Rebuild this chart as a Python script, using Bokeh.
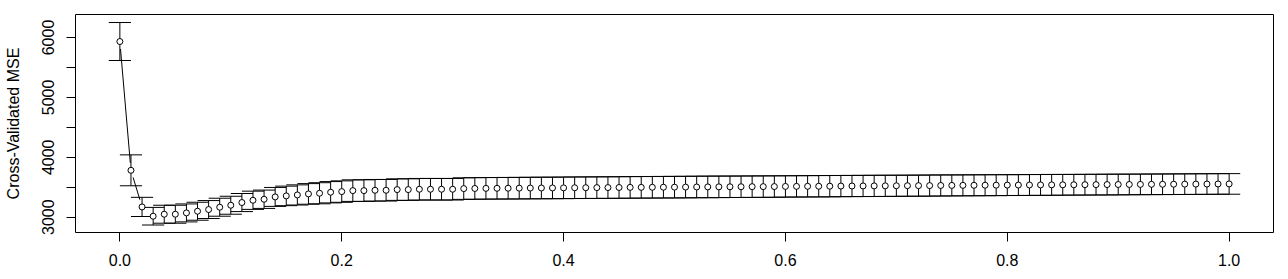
import numpy as np
from bokeh.plotting import figure
from bokeh.models import Range1d, FixedTicker
from bokeh.embed import file_html
from bokeh.resources import INLINE

# ---- data ----
lam = [round(i * 0.01, 2) for i in range(101)]
cv_mse = [5933, 3783, 3172, 3017, 3050, 3050, 3072, 3100, 3128, 3167,
          3200, 3245, 3283, 3300, 3339, 3356, 3372, 3389, 3400, 3417,
          3428, 3444, 3444, 3450, 3450, 3461, 3461, 3467, 3467, 3467,
          3467, 3478, 3480, 3482, 3483, 3484, 3485, 3487, 3488, 3489,
          3490, 3492, 3493, 3494, 3495, 3496, 3498, 3499, 3500, 3501,
          3502, 3503, 3505, 3506, 3507, 3508, 3509, 3510, 3511, 3512,
          3514, 3515, 3516, 3517, 3518, 3520, 3521, 3522, 3523, 3524,
          3525, 3526, 3527, 3528, 3530, 3531, 3532, 3533, 3534, 3535,
          3536, 3537, 3538, 3539, 3540, 3541, 3542, 3543, 3544, 3545,
          3546, 3547, 3548, 3549, 3550, 3551, 3552, 3553, 3554, 3555,
          3556]
cv_sd = [317, 258, 160, 147, 150, 150, 150, 150, 150, 150,
         150, 151, 152, 153, 158, 163, 168, 172, 176, 178,
         179, 180, 180, 180, 180, 180, 180, 180, 180, 180,
         180, 180, 180, 180, 180, 180, 180, 180, 180, 180,
         180, 180, 180, 180, 180, 180, 180, 180, 180, 180,
         180, 180, 180, 180, 180, 179, 179, 179, 179, 179,
         178, 178, 178, 178, 178, 177, 177, 177, 177, 177,
         176, 176, 176, 176, 176, 175, 175, 175, 175, 175,
         174, 174, 174, 174, 174, 173, 173, 173, 173, 173,
         173, 172, 172, 172, 172, 172, 172, 172, 172, 172,
         172]
x_ticks = [0.0, 0.2, 0.4, 0.6, 0.8, 1.0]
y_ticks = [3000, 3500, 4000, 4500, 5000, 5500, 6000]
y_tick_labels = {3000: "3000", 4000: "4000", 5000: "5000", 6000: "6000"}
y_label = "Cross-Validated MSE"

# ---- layout ----
W, H = 1288, 279
ML, MR, MT, MB = 75, 15, 14, 47
FONT = "Liberation Sans"

x_lo, x_hi = -0.04, 1.04
y_lo, y_hi = 2745, 6384

p = figure(width=W, height=H, output_backend="svg", toolbar_location=None,
           x_range=Range1d(x_lo, x_hi), y_range=Range1d(y_lo, y_hi),
           min_border_left=ML, min_border_right=MR, min_border_top=MT,
           min_border_bottom=MB)
p.background_fill_color = "white"
p.border_fill_color = "white"
p.outline_line_color = "black"
p.outline_line_width = 1
p.xgrid.visible = False
p.ygrid.visible = False

x = np.array(lam)
y = np.array(cv_mse, dtype=float)
sd = np.array(cv_sd, dtype=float)
lo = y - sd
hi = y + sd
cap = 0.01

# error bars
p.segment(x0=x, y0=lo, x1=x, y1=hi, line_color="black", line_width=1)
p.segment(x0=x - cap, y0=hi, x1=x + cap, y1=hi, line_color="black", line_width=1)
p.segment(x0=x - cap, y0=lo, x1=x + cap, y1=lo, line_color="black", line_width=1)

# type="b" line: segments with gaps around points
fw = W - ML - MR
fh = H - MT - MB
sx = fw / (x_hi - x_lo)
sy = fh / (y_hi - y_lo)
gap = 7.5
x0s, y0s, x1s, y1s = [], [], [], []
for i in range(len(x) - 1):
    dx = (x[i + 1] - x[i]) * sx
    dy = (y[i + 1] - y[i]) * sy
    d = np.hypot(dx, dy)
    if d > 2 * gap:
        f = gap / d
        x0s.append(x[i] + (x[i + 1] - x[i]) * f)
        y0s.append(y[i] + (y[i + 1] - y[i]) * f)
        x1s.append(x[i + 1] - (x[i + 1] - x[i]) * f)
        y1s.append(y[i + 1] - (y[i + 1] - y[i]) * f)
p.segment(x0=x0s, y0=y0s, x1=x1s, y1=y1s, line_color="black", line_width=1)

# points
p.scatter(x=x, y=y, marker="circle", size=6, fill_color="white",
          line_color="black", line_width=1)

# axes
p.xaxis.ticker = FixedTicker(ticks=x_ticks)
p.xaxis.major_label_overrides = {t: f"{t:.1f}" for t in x_ticks}
p.yaxis.ticker = FixedTicker(ticks=y_ticks)
p.yaxis.major_label_overrides = {t: y_tick_labels.get(t, "") for t in y_ticks}
p.yaxis.major_label_orientation = "vertical"
p.yaxis.axis_label = y_label

for ax in (p.xaxis[0], p.yaxis[0]):
    ax.axis_line_color = None
    ax.minor_tick_line_color = None
    ax.major_tick_out = 9
    ax.major_tick_in = 0
    ax.major_tick_line_color = "black"
    ax.major_label_text_font = FONT
    ax.major_label_text_font_size = "16px"
    ax.major_label_text_color = "black"
    ax.major_label_standoff = 12

p.yaxis.axis_label_text_font = FONT
p.yaxis.axis_label_text_font_size = "16px"
p.yaxis.axis_label_text_font_style = "normal"
p.yaxis.axis_label_text_color = "black"
p.yaxis.axis_label_standoff = 18

open("out.html", "w").write(file_html(p, INLINE))
